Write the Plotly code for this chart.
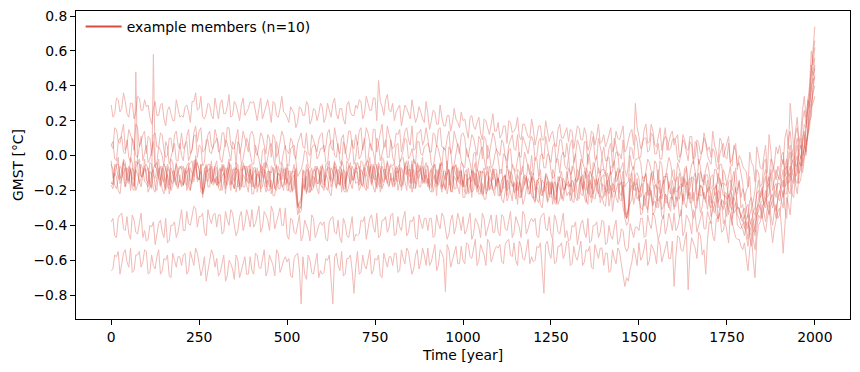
import plotly.graph_objects as go

# 5-year sample years (0 ... 2000)
years = list(range(0, 2001, 5))

member_a = [
    .29,.22,.24,.33,.32,.25,.27,.36,.31,.24,.22,.30,.30,.21,.25,.34,.33,.26,.26,.32,
    .28,.29,.22,.18,.27,.31,.23,.23,.29,.30,.21,.17,.26,.28,.24,.20,.20,.32,.27,.22,
    .23,.22,.28,.29,.25,.19,.31,.31,.36,.26,.27,.34,.22,.21,.24,.30,.29,.23,.21,.33,
    .27,.21,.30,.32,.24,.24,.28,.35,.22,.23,.31,.29,.25,.20,.29,.33,.23,.25,.27,.31,
    .30,.31,.24,.20,.27,.33,.21,.25,.29,.32,.26,.19,.31,.30,.23,.22,.27,.34,.25,.24,
    .22,.19,.28,.26,.24,.16,.19,.28,.27,.23,.23,.31,.29,.18,.21,.27,.26,.20,.24,.30,
    .28,.19,.22,.30,.26,.22,.30,.33,.24,.21,.27,.27,.21,.18,.29,.31,.25,.23,.23,.29,
    .27,.32,.31,.21,.24,.34,.30,.26,.26,.33,.33,.20,.43,.31,.28,.23,.32,.35,.26,.25,
    .30,.20,.25,.27,.29,.17,.23,.29,.27,.24,.21,.32,.26,.19,.22,.28,.25,.21,.19,.31,
    .24,.15,.20,.26,.25,.18,.18,.29,.22,.17,.17,.23,.23,.14,.19,.27,.21,.19,.16,.25,
    .20,.21,.15,.10,.22,.23,.17,.15,.19,.22,.13,.09,.21,.20,.16,.12,.18,.24,.14,.14,
    .19,.10,.12,.17,.17,.07,.20,.19,.13,.14,.16,.22,.11,.09,.18,.18,.14,.11,.10,.21,
    .15,.06,.11,.17,.17,.09,.09,.20,.14,.08,.12,.14,.07,.05,.15,.18,.10,.10,.13,.16,
    .08,.15,.14,.04,.10,.17,.16,.09,.09,.16,.12,.03,.06,.14,.13,.06,.11,.18,.07,.08,
    .12,.05,.08,.12,.16,.02,.05,.14,.10,.09,.13,.17,.02,.04,.09,.13,.15,.06,.30,.16,
    .11,.04,.06,.15,.18,.07,.08,.18,.14,.06,.05,.12,.16,.03,.10,.16,.03,.08,.12,.14,
    .06,.10,.12,-.01,.01,.12,.09,.04,.03,.11,.11,-.02,-.01,.09,.07,.01,.02,.13,.08,.03,
    .05,-.01,.14,.06,.02,-.04,.10,.08,-.01,.03,.08,.11,-.04,-.02,.03,.07,-.08,.00,-.02,-.06,
    -.08,-.09,-.18,.02,-.04,-.06,-.15,.05,.00,-.07,-.08,-.01,.06,-.10,.12,.03,-.10,-.05,.05,.01,
    .06,-.02,-.05,.10,.15,.04,.30,.18,.04,.14,.22,.08,.12,.26,.34,.22,.30,.40,.60,.52,
    .62,
]

member_b = [
    .06,.04,.16,.15,.08,.07,.13,.18,.03,.06,.15,.12,.09,.03,.18,.16,.05,.08,.12,.14,
    .01,.11,.10,.00,.12,.13,.05,.05,.13,.12,.03,-.01,.00,.10,.10,.02,.12,.14,.06,.04,
    .13,.04,.05,.11,.15,.01,.03,.13,.17,.08,.14,.16,.02,.03,.06,.12,.14,.05,.04,.15,
    .11,.02,.03,.13,.13,.05,.16,.16,.06,.04,.04,.10,.15,.01,.05,.14,.10,.06,.02,.12,
    .14,.11,.02,.00,.06,.13,.11,.05,.01,.12,.10,-.01,.12,.10,-.01,.02,.09,.14,.11,.04,
    .03,.01,.10,.08,.00,-.02,.07,.10,.13,.05,.04,.13,.01,.00,.12,.09,.05,.02,.09,.12,
    .13,.02,.05,.13,.15,.05,.03,.16,.10,.04,.01,.10,.12,.01,.06,.14,.14,.06,.04,.12,
    .06,.14,.16,.03,.08,.16,.13,.08,.03,.15,.15,.02,.09,.13,.18,.05,.05,.17,.12,.07,
    .04,.05,.13,.12,.15,.02,.08,.14,.16,.09,.06,.17,.03,.04,.13,.13,.15,.06,.09,.16,
    .10,.02,.02,.13,.12,.05,.15,.16,.05,.04,.03,.10,.14,.01,.04,.14,.09,.06,.01,.12,
    .13,.10,.01,-.01,.05,.12,.10,.04,.00,.11,.09,-.02,.11,.09,-.02,.01,.08,.13,.10,.03,
    .02,.00,.09,.07,-.01,-.03,.06,.09,.12,.04,.03,.12,.00,-.01,.11,.08,.04,.01,.08,.11,
    .08,-.03,.00,.08,.10,.00,-.02,.11,.05,-.01,-.04,.05,.07,-.04,.01,.09,.09,.01,-.01,.07,
    -.01,.07,.09,-.04,.01,.09,.06,.01,-.04,.08,.08,-.05,.02,.06,.11,-.02,-.02,.10,.05,.00,
    .05,-.03,-.03,.04,.07,-.06,.10,.06,.00,.01,-.02,.09,-.08,-.12,-.06,.05,.04,-.02,.12,.08,
    -.01,-.01,.08,.10,.10,.02,.03,.13,.11,.01,.01,.07,-.02,-.02,.08,.11,.10,.03,.04,.09,
    .10,.07,-.02,-.04,.02,.09,.07,.01,-.03,.08,.06,-.05,.08,.06,-.05,-.02,.05,.10,.07,.00,
    -.03,-.05,.04,.02,-.06,-.08,.01,.04,.07,-.01,-.02,.07,-.05,-.06,.06,.03,-.06,-.04,-.10,-.16,
    -.26,-.20,-.18,-.12,-.30,-.26,-.20,-.08,-.10,-.18,-.16,-.04,-.02,-.16,-.12,-.02,-.04,-.10,-.14,-.06,
    -.10,.00,.02,-.08,-.06,.10,.14,.02,-.02,.12,.16,.06,.04,.20,.26,.18,.28,.36,.52,.46,
    .50,
]

member_c = [
    .06,.08,-.02,-.03,.08,.10,.11,.02,.01,.09,-.01,-.04,.10,.07,.00,-.01,.05,.11,-.03,.01,
    .06,-.04,-.02,.03,.08,-.07,-.04,.05,.03,.00,-.06,.08,.05,-.05,-.01,.04,.07,-.03,-.03,.07,
    .00,-.03,.07,.08,-.03,.00,.04,.11,.12,-.01,.06,.05,-.06,-.04,.09,.09,.02,.01,.06,.07,
    .10,.07,-.02,-.04,.02,.09,.07,.01,-.03,.08,.06,-.05,.08,.06,-.05,-.02,.05,.10,.07,.00,
    -.04,-.05,.06,.02,-.02,-.08,.03,.04,-.07,-.01,.05,.07,-.01,-.06,.08,.03,-.05,-.04,.02,.06,
    -.05,-.06,.04,.05,.06,-.03,-.12,-.10,-.08,-.04,.03,.02,-.06,-.07,.04,.06,.06,-.02,.00,.04,
    .04,.06,-.04,-.05,.06,.08,.09,.00,-.01,.07,-.03,-.06,.08,.05,-.02,-.03,.03,.09,-.05,-.01,
    .08,-.02,.00,.05,.10,-.05,-.02,.07,.05,.02,-.04,.10,.07,-.03,.01,.06,.09,-.01,-.01,.09,
    -.01,-.04,.06,.07,-.04,-.01,.03,.10,.09,-.02,.00,.04,-.03,-.05,.08,.08,.01,.00,.05,.06,
    .07,.04,-.05,-.07,-.01,.06,.04,-.02,-.06,.05,.03,-.08,.05,.03,-.08,-.05,.02,.07,.04,-.03,
    -.06,-.07,.04,.00,-.04,-.10,.01,.02,-.09,-.03,.03,.05,-.03,-.08,.06,.01,-.07,-.06,.00,.04,
    -.02,-.10,-.10,.01,.00,-.07,.03,.04,-.07,-.08,-.09,-.02,.02,-.11,-.08,.02,-.03,-.06,-.11,.00,
    -.11,-.01,-.02,-.12,.00,.01,-.07,-.07,.01,.00,-.09,-.13,-.12,-.02,-.02,-.10,.00,.02,-.06,-.08,
    -.01,-.11,-.09,-.04,.01,-.14,-.11,-.02,-.04,-.07,-.13,.01,-.02,-.12,-.08,-.03,.00,-.10,-.10,.00,
    -.08,-.12,-.01,-.01,-.11,-.09,-.04,.02,.02,-.10,-.07,-.04,-.18,-.16,-.15,.00,-.06,-.08,-.02,-.02,
    -.01,-.04,-.13,-.15,-.09,-.02,-.04,-.10,-.14,-.03,-.05,-.16,-.03,-.05,-.16,-.13,-.06,-.01,-.04,-.11,
    -.14,-.15,-.04,-.08,-.12,-.18,-.07,-.06,-.17,-.11,-.05,-.03,-.11,-.16,-.02,-.07,-.15,-.14,-.08,-.04,
    -.10,-.19,-.18,-.08,-.08,-.16,-.05,-.05,-.15,-.17,-.17,-.11,-.06,-.20,-.16,-.07,-.20,-.15,-.24,-.19,
    -.22,-.30,-.36,-.26,-.24,-.32,-.34,-.20,-.14,-.24,-.22,-.12,-.08,-.18,-.16,-.10,-.20,-.14,-.08,-.12,
    -.14,-.06,-.02,-.12,-.10,.00,.06,-.02,-.06,.04,.10,.02,-.02,.08,.18,.16,.32,.28,.40,.44,
    .44,
]

member_d = [
    -.03,-.13,-.11,-.06,-.01,-.16,-.13,-.04,-.06,-.09,-.15,-.01,-.04,-.14,.48,-.05,-.02,-.12,-.12,-.02,
    -.14,-.16,-.04,-.05,-.12,-.13,-.07,-.02,-.17,-.14,-.05,-.08,-.11,-.17,-.02,-.04,-.15,-.12,-.08,-.06,
    -.08,-.06,-.16,-.17,-.06,-.04,-.03,-.12,.00,-.05,-.08,-.18,-.20,-.07,-.14,-.15,-.09,-.03,-.17,-.13,
    -.17,-.16,-.08,-.09,-.06,-.19,-.13,-.07,-.05,-.12,-.15,-.04,-.18,-.17,-.08,-.08,-.06,-.15,-.12,-.05,
    -.05,-.18,-.17,-.07,-.13,-.15,-.08,-.04,-.18,-.16,-.09,-.10,-.07,-.19,-.20,-.06,-.10,-.14,-.08,-.08,
    -.16,-.09,-.09,-.20,-.19,-.07,-.30,-.28,-.26,-.08,-.15,-.21,-.18,-.10,-.07,-.18,-.14,-.06,-.10,-.16,
    -.05,-.15,-.13,-.08,-.03,-.18,-.15,-.06,-.08,-.11,-.17,-.03,-.06,-.16,-.12,-.07,-.04,-.14,-.14,-.04,
    -.13,-.15,-.03,-.04,-.11,-.12,-.06,-.01,-.16,-.13,-.04,-.07,-.10,-.16,-.01,-.03,-.14,-.11,-.07,-.05,
    -.06,-.04,-.14,-.15,-.04,-.02,-.01,-.10,-.11,-.03,-.13,-.16,-.02,-.05,-.12,-.13,-.07,-.01,-.15,-.11,
    -.16,-.15,-.07,-.08,-.05,-.18,-.12,-.06,-.04,-.11,-.14,-.03,-.17,-.16,-.07,-.07,-.05,-.14,-.11,-.04,
    -.05,-.18,-.17,-.07,-.13,-.15,-.08,-.04,-.18,-.16,-.09,-.10,-.07,-.19,-.20,-.06,-.10,-.14,-.08,-.08,
    -.15,-.08,-.08,-.19,-.18,-.06,-.11,-.14,-.05,-.07,-.14,-.20,-.17,-.09,-.06,-.17,-.13,-.05,-.09,-.15,
    -.10,-.20,-.18,-.13,-.08,-.23,-.20,-.11,-.13,-.16,-.22,-.08,-.11,-.21,-.17,-.12,-.09,-.19,-.19,-.09,
    -.16,-.18,-.06,-.07,-.14,-.15,-.09,-.04,-.19,-.16,-.07,-.10,-.13,-.19,-.04,-.06,-.17,-.14,-.10,-.08,
    -.08,-.09,-.16,-.20,-.06,-.07,-.03,-.15,-.13,-.08,-.15,-.21,-.28,-.34,-.32,-.18,-.09,-.06,-.17,-.16,
    -.21,-.20,-.12,-.13,-.10,-.23,-.17,-.11,-.09,-.16,-.19,-.08,-.22,-.21,-.12,-.12,-.10,-.19,-.16,-.09,
    -.08,-.21,-.20,-.10,-.16,-.18,-.11,-.07,-.21,-.19,-.12,-.13,-.10,-.22,-.23,-.09,-.13,-.17,-.11,-.11,
    -.18,-.12,-.11,-.23,-.21,-.10,-.14,-.18,-.08,-.11,-.17,-.24,-.20,-.13,-.09,-.21,-.22,-.14,-.30,-.28,
    -.36,-.30,-.28,-.38,-.40,-.32,-.30,-.22,-.20,-.28,-.26,-.16,-.12,-.24,-.22,-.08,-.12,-.20,-.24,-.14,
    -.10,-.16,-.18,-.06,-.02,-.12,-.10,.02,.04,-.06,-.06,.06,.10,.00,.04,.16,.26,.30,.44,.58,
    .66,
]

member_e = [
    -.16,-.16,-.07,-.05,-.05,-.13,-.12,-.02,-.04,-.14,-.14,-.08,-.17,-.17,-.07,-.04,-.05,-.12,-.11,-.06,
    -.05,-.08,-.17,-.19,.58,-.06,-.08,-.14,-.18,-.07,-.09,-.20,-.07,-.09,-.20,-.17,-.10,-.05,-.08,-.15,
    -.15,-.17,-.08,-.10,-.18,-.20,-.11,-.08,-.02,-.13,-.14,-.05,-.24,-.18,-.06,-.09,-.13,-.16,-.09,-.06,
    -.07,-.18,-.15,-.07,-.05,-.15,-.17,-.04,-.10,-.16,-.19,-.10,-.08,-.19,-.14,-.06,-.06,-.14,-.16,-.08,
    -.18,-.10,-.08,-.21,-.16,-.08,-.11,-.16,-.21,-.09,-.09,-.22,-.15,-.11,-.06,-.19,-.19,-.07,-.12,-.17,
    -.13,-.20,-.21,-.13,-.11,-.23,-.34,-.31,-.28,-.16,-.20,-.08,-.09,-.21,-.19,-.12,-.14,-.19,-.22,-.09,
    -.18,-.18,-.09,-.07,-.07,-.15,-.14,-.04,-.06,-.16,-.16,-.10,-.19,-.19,-.09,-.06,-.07,-.14,-.13,-.08,
    -.04,-.07,-.16,-.18,-.12,-.05,-.07,-.13,-.17,-.06,-.08,-.19,-.06,-.08,-.19,-.16,-.09,-.04,-.07,-.14,
    -.13,-.15,-.06,-.08,-.16,-.18,-.09,-.06,-.03,-.11,-.12,-.03,-.15,-.16,-.04,-.07,-.11,-.14,-.07,-.04,
    -.07,-.18,-.15,-.07,-.05,-.15,-.17,-.04,-.10,-.16,-.19,-.10,-.08,-.19,-.14,-.06,-.06,-.14,-.16,-.08,
    -.18,-.10,-.08,-.21,-.16,-.08,-.11,-.16,-.21,-.09,-.09,-.22,-.15,-.11,-.06,-.19,-.19,-.07,-.12,-.17,
    -.13,-.20,-.21,-.13,-.11,-.23,-.08,-.11,-.18,-.16,-.20,-.08,-.09,-.21,-.19,-.12,-.14,-.19,-.22,-.09,
    -.24,-.24,-.15,-.13,-.13,-.21,-.20,-.10,-.12,-.22,-.22,-.16,-.25,-.25,-.15,-.12,-.13,-.20,-.19,-.14,
    -.07,-.10,-.19,-.21,-.15,-.08,-.10,-.16,-.20,-.09,-.11,-.22,-.09,-.11,-.22,-.19,-.12,-.07,-.10,-.17,
    -.17,-.21,-.10,-.14,-.20,-.24,-.13,-.12,-.07,-.17,-.16,-.09,-.30,-.36,-.34,-.13,-.15,-.20,-.11,-.10,
    -.13,-.24,-.21,-.13,-.11,-.21,-.23,-.10,-.16,-.22,-.25,-.16,-.14,-.25,-.20,-.12,-.12,-.20,-.22,-.14,
    -.22,-.14,-.12,-.25,-.20,-.12,-.15,-.20,-.25,-.13,-.13,-.26,-.19,-.15,-.10,-.23,-.23,-.11,-.16,-.21,
    -.18,-.27,-.26,-.20,-.16,-.30,-.13,-.18,-.23,-.23,-.25,-.15,-.14,-.28,-.24,-.19,-.30,-.30,-.36,-.32,
    -.30,-.38,-.42,-.34,-.30,-.38,-.44,-.32,-.24,-.22,-.18,-.28,-.26,-.18,-.12,-.22,-.26,-.18,-.16,-.24,
    -.22,-.14,-.08,-.18,-.16,-.04,.02,-.10,-.12,.00,.06,-.04,-.06,.10,.14,.06,.12,.28,.36,.48,
    .56,
]

member_f = [
    -.05,-.08,-.17,-.19,-.13,-.06,-.08,-.14,-.18,-.07,-.09,-.20,-.07,-.09,-.20,-.17,-.10,-.05,-.08,-.15,
    -.16,-.18,-.09,-.11,-.19,-.21,-.12,-.09,-.06,-.14,-.15,-.06,-.18,-.19,-.07,-.10,-.14,-.17,-.10,-.07,
    -.06,-.17,-.14,-.06,-.04,-.14,-.16,-.03,-.03,-.15,-.12,-.09,-.22,-.18,-.13,-.05,-.05,-.13,-.15,-.07,
    -.17,-.09,-.07,-.20,-.15,-.07,-.10,-.15,-.20,-.08,-.08,-.21,-.14,-.10,-.05,-.18,-.18,-.06,-.11,-.16,
    -.11,-.18,-.19,-.11,-.09,-.21,-.06,-.09,-.16,-.14,-.18,-.06,-.07,-.19,-.17,-.10,-.12,-.17,-.20,-.07,
    -.20,-.20,-.11,-.09,-.09,-.17,-.28,-.33,-.32,-.18,-.18,-.12,-.21,-.21,-.11,-.08,-.09,-.16,-.15,-.10,
    -.06,-.09,-.18,-.20,-.14,-.07,-.09,-.15,-.19,-.08,-.10,-.21,-.08,-.10,-.21,-.18,-.11,-.06,-.09,-.16,
    -.15,-.17,-.08,-.10,-.18,-.20,-.11,-.08,-.05,-.13,-.14,-.05,-.17,-.18,-.06,-.09,-.13,-.16,-.09,-.06,
    -.07,-.18,-.15,-.07,-.05,-.15,-.17,-.04,-.10,-.16,-.19,-.10,-.08,-.19,-.14,-.06,-.06,-.14,-.16,-.08,
    -.18,-.10,-.08,-.21,-.16,-.08,-.11,-.16,-.21,-.09,-.09,-.22,-.15,-.11,-.06,-.19,-.19,-.07,-.12,-.17,
    -.14,-.21,-.22,-.14,-.12,-.24,-.09,-.12,-.19,-.17,-.21,-.09,-.10,-.22,-.20,-.13,-.15,-.20,-.23,-.10,
    -.23,-.23,-.14,-.12,-.12,-.20,-.19,-.09,-.11,-.21,-.21,-.15,-.24,-.24,-.14,-.11,-.12,-.19,-.18,-.13,
    -.13,-.16,-.25,-.27,-.21,-.14,-.16,-.22,-.26,-.15,-.17,-.28,-.15,-.17,-.28,-.25,-.18,-.13,-.16,-.23,
    -.21,-.23,-.14,-.16,-.24,-.26,-.17,-.14,-.11,-.19,-.20,-.11,-.23,-.24,-.12,-.15,-.19,-.22,-.15,-.12,
    -.11,-.23,-.19,-.12,-.09,-.20,-.21,-.09,-.14,-.21,-.23,-.15,-.32,-.36,-.30,-.11,-.10,-.19,-.20,-.13,
    -.26,-.18,-.16,-.29,-.24,-.16,-.19,-.24,-.29,-.17,-.17,-.30,-.23,-.19,-.14,-.27,-.27,-.15,-.20,-.25,
    -.18,-.25,-.26,-.18,-.16,-.28,-.13,-.16,-.23,-.21,-.25,-.13,-.14,-.26,-.24,-.17,-.19,-.24,-.27,-.14,
    -.28,-.30,-.19,-.19,-.17,-.27,-.24,-.16,-.16,-.28,-.26,-.22,-.29,-.31,-.19,-.18,-.30,-.32,-.34,-.36,
    -.42,-.36,-.34,-.44,-.46,-.38,-.36,-.30,-.28,-.24,-.20,-.28,-.30,-.20,-.16,-.26,-.30,-.22,-.20,-.16,
    -.16,-.20,-.24,-.12,-.06,-.16,-.14,-.04,-.02,-.12,-.10,.02,.06,-.04,.08,.16,.22,.36,.50,.62,
    .74,
]

member_g = [
    -.17,-.19,-.10,-.12,-.20,-.22,-.13,-.10,-.07,-.15,-.16,-.07,-.19,-.20,-.08,-.11,-.15,-.18,-.11,-.08,
    -.10,-.21,-.18,-.10,-.08,-.18,-.20,-.07,-.13,-.19,-.22,-.13,-.11,-.22,-.17,-.09,-.09,-.17,-.19,-.11,
    -.17,-.09,-.07,-.20,-.15,-.07,-.10,-.15,-.06,-.04,-.08,-.21,-.22,-.10,-.05,-.18,-.18,-.06,-.11,-.16,
    -.12,-.19,-.20,-.12,-.10,-.22,-.07,-.10,-.17,-.15,-.19,-.07,-.08,-.20,-.18,-.11,-.13,-.18,-.21,-.08,
    -.22,-.22,-.13,-.11,-.11,-.19,-.18,-.08,-.10,-.20,-.20,-.14,-.23,-.23,-.13,-.10,-.11,-.18,-.17,-.12,
    -.05,-.10,-.17,-.21,-.13,-.08,-.26,-.30,-.30,-.09,-.09,-.22,-.07,-.11,-.20,-.19,-.10,-.07,-.08,-.17,
    -.18,-.20,-.11,-.13,-.21,-.23,-.14,-.11,-.08,-.16,-.17,-.08,-.20,-.21,-.09,-.12,-.16,-.19,-.12,-.09,
    -.09,-.20,-.17,-.09,-.07,-.17,-.19,-.06,-.12,-.18,-.21,-.12,-.10,-.21,-.16,-.08,-.08,-.16,-.18,-.10,
    -.17,-.09,-.07,-.20,-.15,-.07,-.10,-.15,-.20,-.08,-.08,-.21,-.14,-.10,-.05,-.18,-.18,-.06,-.11,-.16,
    -.13,-.20,-.21,-.13,-.11,-.23,-.08,-.11,-.18,-.16,-.20,-.08,-.09,-.21,-.19,-.12,-.14,-.19,-.22,-.09,
    -.24,-.24,-.15,-.13,-.13,-.21,-.20,-.10,-.12,-.22,-.22,-.16,-.25,-.25,-.15,-.12,-.13,-.20,-.19,-.14,
    -.13,-.16,-.25,-.27,-.21,-.14,-.16,-.22,-.26,-.15,-.17,-.28,-.15,-.17,-.28,-.25,-.18,-.13,-.16,-.23,
    -.25,-.27,-.18,-.20,-.28,-.30,-.21,-.18,-.15,-.23,-.24,-.15,-.27,-.28,-.16,-.19,-.23,-.26,-.19,-.16,
    -.15,-.26,-.23,-.15,-.13,-.23,-.25,-.12,-.18,-.24,-.27,-.18,-.16,-.27,-.22,-.14,-.14,-.22,-.24,-.16,
    -.24,-.18,-.14,-.29,-.22,-.16,-.17,-.24,-.27,-.17,-.15,-.30,-.34,-.36,-.30,-.27,-.25,-.15,-.18,-.25,
    -.23,-.30,-.31,-.23,-.21,-.33,-.18,-.21,-.28,-.26,-.30,-.18,-.19,-.31,-.29,-.22,-.24,-.29,-.32,-.19,
    -.29,-.29,-.20,-.18,-.18,-.26,-.25,-.15,-.17,-.27,-.27,-.21,-.30,-.30,-.20,-.17,-.18,-.25,-.24,-.19,
    -.18,-.22,-.30,-.33,-.26,-.20,-.21,-.28,-.31,-.21,-.22,-.34,-.20,-.23,-.33,-.31,-.30,-.30,-.36,-.38,
    -.34,-.42,-.48,-.40,-.36,-.42,-.46,-.36,-.28,-.30,-.34,-.26,-.20,-.28,-.30,-.24,-.22,-.28,-.32,-.24,
    -.26,-.18,-.14,-.22,-.22,-.10,-.06,-.14,-.16,-.04,.00,-.10,-.08,.06,.12,.00,.18,.26,.30,.36,
    .40,
]

member_h = [
    -.15,-.17,-.05,-.06,-.13,-.14,-.08,-.03,-.18,-.15,-.06,-.09,-.12,-.18,-.03,-.05,-.16,-.13,-.09,-.07,
    -.09,-.07,-.17,-.18,-.07,-.05,-.04,-.13,-.14,-.06,-.16,-.19,-.05,-.08,-.15,-.16,-.10,-.04,-.18,-.14,
    -.18,-.17,-.09,-.10,-.07,-.20,-.14,-.08,-.04,-.13,-.14,-.05,-.21,-.18,-.09,-.09,-.07,-.16,-.13,-.06,
    -.03,-.16,-.15,-.05,-.11,-.13,-.06,-.02,-.16,-.14,-.07,-.08,-.05,-.17,-.18,-.04,-.08,-.12,-.06,-.06,
    -.14,-.07,-.07,-.18,-.17,-.05,-.10,-.13,-.04,-.06,-.13,-.19,-.16,-.08,-.05,-.16,-.12,-.04,-.08,-.14,
    -.07,-.17,-.15,-.10,-.05,-.20,-.29,-.27,-.24,-.13,-.19,-.05,-.08,-.18,-.14,-.09,-.06,-.16,-.16,-.06,
    -.15,-.17,-.05,-.06,-.13,-.14,-.08,-.03,-.18,-.15,-.06,-.09,-.12,-.18,-.03,-.05,-.16,-.13,-.09,-.07,
    -.08,-.06,-.16,-.17,-.06,-.04,-.03,-.12,-.13,-.05,-.15,-.18,-.04,-.07,-.14,-.15,-.09,-.03,-.17,-.13,
    -.18,-.17,-.09,-.10,-.07,-.20,-.14,-.08,-.06,-.13,-.16,-.05,-.19,-.18,-.09,-.09,-.07,-.16,-.13,-.06,
    -.06,-.19,-.18,-.08,-.14,-.16,-.09,-.05,-.19,-.17,-.10,-.11,-.08,-.20,-.21,-.07,-.11,-.15,-.09,-.09,
    -.18,-.11,-.11,-.22,-.21,-.09,-.14,-.17,-.08,-.10,-.17,-.23,-.20,-.12,-.09,-.20,-.16,-.08,-.12,-.18,
    -.13,-.23,-.21,-.16,-.11,-.26,-.23,-.14,-.16,-.19,-.25,-.11,-.14,-.24,-.20,-.15,-.12,-.22,-.22,-.12,
    -.24,-.26,-.14,-.15,-.22,-.23,-.17,-.12,-.27,-.24,-.15,-.18,-.21,-.27,-.12,-.14,-.25,-.22,-.18,-.16,
    -.18,-.16,-.26,-.27,-.16,-.14,-.13,-.22,-.23,-.15,-.25,-.28,-.14,-.17,-.24,-.25,-.19,-.13,-.27,-.23,
    -.28,-.29,-.19,-.22,-.17,-.32,-.24,-.20,-.16,-.25,-.26,-.17,-.36,-.40,-.38,-.21,-.17,-.28,-.23,-.18,
    -.21,-.34,-.33,-.23,-.29,-.31,-.24,-.20,-.34,-.32,-.25,-.26,-.23,-.35,-.36,-.22,-.26,-.30,-.24,-.24,
    -.31,-.24,-.24,-.35,-.34,-.22,-.27,-.30,-.21,-.23,-.30,-.36,-.33,-.25,-.22,-.33,-.29,-.21,-.25,-.31,
    -.23,-.35,-.31,-.28,-.21,-.38,-.33,-.26,-.26,-.31,-.35,-.23,-.24,-.36,-.30,-.27,-.34,-.36,-.40,-.42,
    -.46,-.40,-.38,-.46,-.52,-.44,-.40,-.34,-.32,-.28,-.36,-.30,-.24,-.30,-.34,-.28,-.26,-.30,-.36,-.24,
    -.20,-.26,-.30,-.18,-.12,-.20,-.22,-.10,-.06,-.14,-.16,-.06,.00,-.10,-.02,.08,.16,.22,.28,.30,
    .34,
]

member_i = [
    -.38,-.36,-.46,-.47,-.36,-.34,-.33,-.42,-.43,-.35,-.45,-.48,-.34,-.37,-.44,-.45,-.39,-.33,-.47,-.43,
    -.49,-.48,-.40,-.41,-.38,-.51,-.45,-.39,-.37,-.44,-.47,-.36,-.50,-.49,-.40,-.40,-.38,-.47,-.44,-.37,
    -.31,-.43,-.43,-.32,-.39,-.40,-.34,-.29,-.30,-.41,-.35,-.35,-.33,-.44,-.46,-.31,-.36,-.39,-.34,-.33,
    -.41,-.34,-.34,-.45,-.44,-.32,-.37,-.40,-.31,-.33,-.40,-.46,-.43,-.35,-.32,-.43,-.39,-.31,-.35,-.41,
    -.31,-.41,-.39,-.34,-.29,-.44,-.41,-.32,-.34,-.37,-.43,-.29,-.32,-.42,-.38,-.33,-.30,-.40,-.40,-.30,
    -.46,-.48,-.36,-.37,-.44,-.45,-.39,-.34,-.49,-.46,-.37,-.40,-.43,-.49,-.34,-.36,-.47,-.44,-.40,-.38,
    -.40,-.38,-.48,-.49,-.38,-.36,-.35,-.44,-.45,-.37,-.47,-.50,-.36,-.39,-.46,-.47,-.41,-.35,-.49,-.45,
    -.46,-.45,-.37,-.38,-.35,-.48,-.42,-.36,-.34,-.41,-.44,-.33,-.47,-.46,-.37,-.37,-.35,-.44,-.41,-.34,
    -.33,-.46,-.45,-.35,-.41,-.43,-.36,-.32,-.46,-.44,-.37,-.38,-.35,-.47,-.48,-.34,-.38,-.42,-.36,-.36,
    -.43,-.36,-.36,-.47,-.46,-.34,-.39,-.42,-.33,-.35,-.42,-.48,-.45,-.37,-.34,-.45,-.41,-.33,-.37,-.43,
    -.35,-.45,-.43,-.38,-.33,-.48,-.45,-.36,-.38,-.41,-.47,-.33,-.36,-.46,-.42,-.37,-.34,-.44,-.44,-.34,
    -.44,-.46,-.34,-.35,-.42,-.43,-.37,-.32,-.47,-.44,-.35,-.38,-.41,-.47,-.32,-.34,-.45,-.42,-.38,-.36,
    -.38,-.36,-.46,-.47,-.36,-.34,-.33,-.42,-.43,-.35,-.45,-.48,-.34,-.37,-.44,-.45,-.39,-.33,-.47,-.43,
    -.49,-.48,-.40,-.41,-.38,-.51,-.45,-.39,-.37,-.44,-.47,-.36,-.50,-.49,-.40,-.40,-.38,-.47,-.44,-.37,
    -.38,-.51,-.50,-.40,-.46,-.48,-.41,-.37,-.51,-.49,-.42,-.43,-.52,-.55,-.53,-.39,-.43,-.47,-.41,-.41,
    -.43,-.36,-.36,-.47,-.46,-.34,-.39,-.42,-.33,-.35,-.42,-.48,-.45,-.37,-.34,-.45,-.41,-.33,-.37,-.43,
    -.33,-.43,-.41,-.36,-.31,-.46,-.43,-.34,-.36,-.39,-.45,-.31,-.34,-.44,-.40,-.35,-.32,-.42,-.42,-.32,
    -.36,-.39,-.26,-.28,-.34,-.36,-.29,-.25,-.39,-.37,-.27,-.31,-.33,-.40,-.24,-.27,-.40,-.41,-.42,-.39,
    -.38,-.46,-.52,-.44,-.40,-.48,-.54,-.42,-.34,-.36,-.28,-.32,-.38,-.30,-.26,-.34,-.40,-.32,-.28,-.36,
    -.34,-.26,-.20,-.30,-.36,-.16,-.10,-.22,-.24,-.12,-.04,-.16,-.14,-.02,.06,.02,.10,.20,.22,.38,
    .46,
]

member_j = [
    -.66,-.65,-.57,-.58,-.55,-.68,-.62,-.56,-.54,-.61,-.64,-.53,-.67,-.66,-.57,-.57,-.55,-.64,-.61,-.54,
    -.55,-.68,-.67,-.57,-.63,-.65,-.58,-.54,-.68,-.66,-.59,-.60,-.57,-.69,-.70,-.56,-.60,-.64,-.58,-.58,
    -.63,-.57,-.56,-.68,-.66,-.55,-.59,-.63,-.53,-.56,-.62,-.69,-.65,-.58,-.72,-.66,-.61,-.54,-.57,-.64,
    -.59,-.69,-.67,-.62,-.57,-.72,-.69,-.60,-.62,-.65,-.71,-.57,-.60,-.70,-.66,-.61,-.58,-.68,-.68,-.58,
    -.66,-.68,-.56,-.57,-.64,-.65,-.59,-.54,-.69,-.66,-.57,-.60,-.63,-.69,-.54,-.56,-.67,-.64,-.60,-.58,
    -.61,-.59,-.69,-.70,-.59,-.57,-.56,-.65,-.85,-.58,-.68,-.71,-.57,-.60,-.67,-.68,-.62,-.56,-.70,-.66,
    -.68,-.67,-.59,-.60,-.57,-.70,-.85,-.58,-.56,-.63,-.66,-.55,-.69,-.68,-.59,-.59,-.57,-.66,-.79,-.64,
    -.55,-.68,-.67,-.57,-.63,-.65,-.58,-.54,-.68,-.66,-.59,-.60,-.57,-.69,-.70,-.56,-.60,-.64,-.58,-.58,
    -.63,-.56,-.56,-.67,-.66,-.54,-.59,-.62,-.53,-.55,-.62,-.68,-.65,-.57,-.54,-.65,-.61,-.53,-.57,-.63,
    -.53,-.63,-.61,-.56,-.51,-.66,-.63,-.54,-.56,-.59,-.78,-.51,-.54,-.64,-.60,-.55,-.52,-.62,-.62,-.52,
    -.60,-.62,-.50,-.51,-.58,-.59,-.53,-.48,-.63,-.60,-.51,-.54,-.57,-.63,-.48,-.50,-.61,-.58,-.54,-.52,
    -.53,-.51,-.61,-.62,-.51,-.49,-.48,-.57,-.58,-.50,-.60,-.63,-.49,-.52,-.59,-.60,-.54,-.48,-.62,-.58,
    -.61,-.60,-.52,-.53,-.50,-.63,-.79,-.51,-.49,-.56,-.59,-.48,-.62,-.61,-.52,-.52,-.50,-.59,-.56,-.49,
    -.50,-.63,-.62,-.52,-.58,-.60,-.53,-.49,-.63,-.61,-.54,-.55,-.52,-.64,-.65,-.51,-.55,-.59,-.53,-.53,
    -.63,-.56,-.56,-.67,-.66,-.54,-.59,-.62,-.53,-.55,-.62,-.68,-.75,-.70,-.72,-.65,-.61,-.53,-.57,-.63,
    -.50,-.60,-.58,-.53,-.48,-.63,-.60,-.51,-.53,-.56,-.62,-.48,-.51,-.61,-.57,-.52,-.49,-.59,-.59,-.49,
    -.75,-.58,-.46,-.47,-.54,-.55,-.49,-.44,-.77,-.56,-.47,-.50,-.53,-.59,-.44,-.46,-.57,-.54,-.68,-.48,
    -.38,-.38,-.46,-.49,-.36,-.36,-.33,-.44,-.43,-.37,-.45,-.50,-.34,-.39,-.44,-.47,-.48,-.48,-.52,-.54,
    -.50,-.58,-.66,-.54,-.46,-.60,-.70,-.48,-.40,-.38,-.34,-.40,-.44,-.36,-.30,-.40,-.50,-.42,-.36,-.32,
    -.30,-.40,-.56,-.36,-.24,-.28,-.34,-.20,-.12,-.16,-.22,-.12,-.04,-.06,.00,.08,.12,.16,.26,.40,
    .52,
]

members = [member_a, member_b, member_c, member_d, member_e,
           member_f, member_g, member_h, member_i, member_j]
assert all(len(m) == len(years) for m in members), [len(m) for m in members]

x_ticks = [0, 250, 500, 750, 1000, 1250, 1500, 1750, 2000]
y_ticks = [-0.8, -0.6, -0.4, -0.2, 0.0, 0.2, 0.4, 0.6, 0.8]

legend_label = "example members (n=10)"
line_color = "rgb(218,76,64)"
FONT = "DejaVu Sans, Liberation Sans, sans-serif"

fig = go.Figure()
for m in members:
    fig.add_trace(go.Scatter(
        x=years, y=m, mode="lines",
        line=dict(color=line_color, width=1.0),
        opacity=0.38, showlegend=False, hoverinfo="skip",
    ))

# legend proxy
fig.add_trace(go.Scatter(
    x=[None], y=[None], mode="lines",
    line=dict(color=line_color, width=2),
    name=legend_label, showlegend=True,
))

axis_common = dict(
    showline=True, linecolor="black", linewidth=1, mirror=True,
    ticks="outside", ticklen=5, tickwidth=1, tickcolor="black",
    showgrid=False, zeroline=False, automargin=False,
    tickfont=dict(family=FONT, size=13.9, color="black"),
)

fig.update_layout(
    width=860, height=372,
    margin=dict(l=76, r=10, t=11, b=53),
    paper_bgcolor="white", plot_bgcolor="white",
    font=dict(family=FONT, size=13.9, color="black"),
    xaxis=dict(
        range=[-100, 2100], tickvals=x_ticks, tickformat="d",
        title=dict(text="Time [year]", standoff=6,
                   font=dict(family=FONT, size=13.9, color="black")),
        **axis_common,
    ),
    yaxis=dict(
        range=[-0.937, 0.829], tickvals=y_ticks, tickformat=".1f",
        title=dict(text="GMST [°C]", standoff=6,
                   font=dict(family=FONT, size=13.9, color="black")),
        **axis_common,
    ),
    legend=dict(
        x=0.006, y=1.0, xanchor="left", yanchor="top",
        bgcolor="rgba(0,0,0,0)", borderwidth=0, itemwidth=36,
        font=dict(family=FONT, size=13.9, color="black"),
    ),
)

fig.write_html(
    "out.html",
    config={"displayModeBar": False},
    post_script="document.body.style.margin='0';document.body.style.overflow='hidden';",
)
